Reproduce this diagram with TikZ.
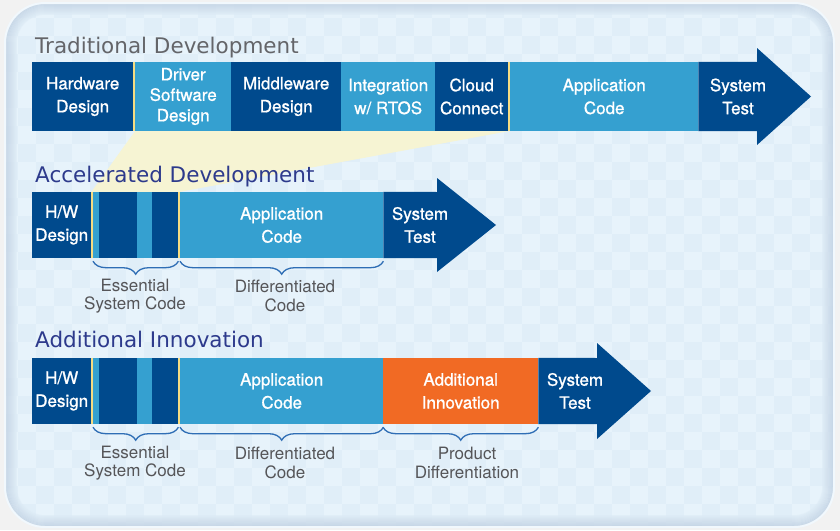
\documentclass[tikz,border=0pt]{standalone}
\usepackage{fontspec}
\setmainfont{TeX Gyre Heros}
\newfontfamily\headfont{DejaVu Sans}
\newfontfamily\segfont[FakeBold=1]{TeX Gyre Heros}
\usetikzlibrary{decorations.pathreplacing}

\definecolor{dkblue}{RGB}{0,74,141}
\definecolor{ltblue}{RGB}{53,160,208}
\definecolor{orng}{RGB}{241,106,36}
\definecolor{goldline}{RGB}{246,220,130}
\definecolor{funnel}{RGB}{246,244,211}
\definecolor{bracec}{RGB}{47,110,181}
\definecolor{headblue}{RGB}{45,58,140}
\definecolor{headgrey}{RGB}{100,101,105}
\definecolor{notegrey}{RGB}{85,85,88}
\definecolor{bgA}{RGB}{224,238,248}
\definecolor{bgB}{RGB}{231,243,251}
\definecolor{rim}{RGB}{190,206,224}
\definecolor{outside}{RGB}{242,242,242}

\tikzset{
  seg/.style={inner sep=0pt, text=white, align=center, anchor=west,
    font=\segfont\fontsize{17}{23}\selectfont},
  dark/.style={seg, fill=dkblue},
  light/.style={seg, fill=ltblue},
  note/.style={text=notegrey, align=center, inner sep=0pt,
    font=\fontsize{17}{18.5}\selectfont},
  brc/.style={draw=bracec, line width=1.3pt, decorate,
    decoration={brace, mirror, amplitude=13pt, raise=3pt}},
  sepline/.style={goldline, line width=2pt},
  heading/.style={anchor=base west, inner sep=0pt,
    font=\headfont\fontsize{21.5}{22}\selectfont}
}

\begin{document}
\begin{tikzpicture}[x=1pt,y=-1pt]
\useasboundingbox (0,0) rectangle (840,530);
% background panel
\fill[outside] (0,0) rectangle (840,530);
\begin{scope}
  \clip[rounded corners=40] (5,3) rectangle (834,527);
  \fill[bgA] (0,0) rectangle (840,530);
  \foreach \i in {0,...,46}
    \foreach \j in {0,...,29}{
      \pgfmathtruncatemacro\chk{mod(\i+\j,2)}
      \ifnum\chk=0 \fill[bgB] (\i*18,\j*18) rectangle ++(18,18); \fi
    }
  \foreach \k in {0,...,11}{
    \pgfmathtruncatemacro\pct{100-8*\k}
    \draw[rim!\pct!bgA, opacity=0.55, line width=1.6pt, rounded corners=40-\k]
      (5+\k,3+\k) rectangle (834-\k,527-\k);
  }
\end{scope}
\draw[bgB!60!white, line width=2pt, rounded corners=40] (5,3) rectangle (834,527);

% traditional
\node[heading, text=headgrey] (h1) at (35,53) {Traditional Development};
\node[dark, minimum height=69, minimum width=101] (hw) at (32,96.5) {Hardware\\Design};
\node[light, minimum height=69, minimum width=96, font=\segfont\fontsize{17}{20.5}\selectfont] (drv) at (135,96.5) {Driver\\Software\\Design};
\node[dark, minimum height=69, minimum width=110] (mid) at (231,96.5) {Middleware\\Design};
\node[light, minimum height=69, minimum width=94] (rtos) at (341,96.5) {Integration\\w/ RTOS};
\node[dark, minimum height=69, minimum width=73] (cloud) at (435,96.5) {Cloud\\Connect};
\node[light, minimum height=69, minimum width=188] (app) at (510,96.5) {Application\\Code};
\fill[dkblue] (app.north east) -- (757,62) -- (757,48) -- (811,96.5) -- (757,145) -- (757,131) -- (app.south east) -- cycle;
\node[seg, anchor=center] (test1) at (738,96.5) {System\\Test};
\draw[sepline] ([xshift=1pt]hw.north east) -- ([xshift=1pt]hw.south east);
\draw[sepline] ([xshift=1pt]cloud.north east) -- ([xshift=1pt]cloud.south east);

% accelerated
\node[dark, minimum height=66, minimum width=59] (hw2) at (32,225) {H/W\\Design};
\node[light, minimum height=66, minimum width=85] (ess2) at (93,225) {};
\node[dark, minimum height=66, minimum width=38] (ess2a) at (99,225) {};
\node[dark, minimum height=66, minimum width=26] (ess2b) at (152,225) {};
\node[light, minimum height=66, minimum width=203] (app2) at (180,225) {Application\\Code};
\fill[dkblue] (app2.north east) -- (437,192) -- (437,178) -- (496,225) -- (437,272) -- (437,258) -- (app2.south east) -- cycle;
\node[seg, anchor=center] (test2) at (420,225) {System\\Test};
\draw[sepline] ([xshift=1pt]hw2.north east) -- ([xshift=1pt]hw2.south east);
\draw[sepline] ([xshift=1pt]ess2.north east) -- ([xshift=1pt]ess2.south east);
\draw[brc] (ess2.south west) -- (ess2.south east);
\draw[brc] (app2.south west) -- (app2.south east);
\node[note] (ess2lbl) at (135,296) {Essential\\System Code};
\node[note] (app2lbl) at (285,296) {Differentiated\\Code};

% the zoom wedge, under the heading
\fill[funnel] (drv.south west) -- (cloud.south east) -- (app2.north west) -- (hw2.north east) -- cycle;
\node[heading, text=headblue] (h2) at (35,182) {Accelerated Development};

% additional innovation
\node[heading, text=headblue] (h3) at (35,347) {Additional Innovation};
\node[dark, minimum height=66, minimum width=59] (hw3) at (32,391) {H/W\\Design};
\node[light, minimum height=66, minimum width=85] (ess3) at (93,391) {};
\node[dark, minimum height=66, minimum width=38] (ess3a) at (99,391) {};
\node[dark, minimum height=66, minimum width=26] (ess3b) at (152,391) {};
\node[light, minimum height=66, minimum width=203] (app3) at (180,391) {Application\\Code};
\node[seg, fill=orng, minimum height=66, minimum width=155] (inno) at (383,391) {Additional\\Innovation};
\fill[dkblue] (inno.north east) -- (597,358) -- (597,343) -- (651,391) -- (597,439) -- (597,424) -- (inno.south east) -- cycle;
\node[seg, anchor=center] (test3) at (575,391) {System\\Test};
\draw[sepline] ([xshift=1pt]hw3.north east) -- ([xshift=1pt]hw3.south east);
\draw[sepline] ([xshift=1pt]ess3.north east) -- ([xshift=1pt]ess3.south east);
\draw[brc] (ess3.south west) -- (ess3.south east);
\draw[brc] (app3.south west) -- (app3.south east);
\draw[brc] (inno.south west) -- (inno.south east);
\node[note] (ess3lbl) at (135,463) {Essential\\System Code};
\node[note] (app3lbl) at (285,463) {Differentiated\\Code};
\node[note] (inno3lbl) at (467,463) {Product\\Differentiation};
\end{tikzpicture}
\end{document}
